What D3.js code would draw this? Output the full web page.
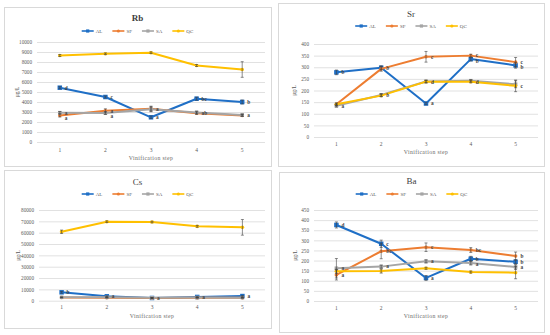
<!DOCTYPE html>
<html>
<head>
<meta charset="utf-8">
<script src="https://cdn.jsdelivr.net/npm/d3@7"></script>
<style>
  html, body { margin: 0; padding: 0; background: #ffffff; }
  svg { display: block; }
  text { font-family: "Liberation Serif", "Times New Roman", serif; }
</style>
</head>
<body>
<svg id="chart" width="550" height="335"></svg>
<script>
// ---------------- DATA ----------------
const steps = ["1", "2", "3", "4", "5"];
const seriesNames = ["AL", "SF", "SA", "QC"];
const xAxisTitle = "Vinification step";
const yAxisTitle = "μg/L";

// Rb
const rbTicks = [0, 1000, 2000, 3000, 4000, 5000, 6000, 7000, 8000, 9000, 10000];
const rbMeans = [
  [5430, 4500, 2470, 4330, 4000],
  [2650, 3120, 3330, 2880, 2650],
  [2930, 2900, 3280, 2960, 2700],
  [8650, 8820, 8930, 7650, 7250]
];
const rbErrors = [
  [100, 100, 120, 150, 200],
  [150, 200, 250, 120, 100],
  [120, 150, 250, 120, 100],
  [100, 80, 80, 100, 780]
];
const rbLetters = [
  ["d", "c", "a", "bc", "b"],
  ["a", "a", "", "ab", ""],
  ["a", "a", "a", "", "a"],
  ["", "", "", "", ""]
];

// Sr
const srTicks = [0, 50, 100, 150, 200, 250, 300, 350, 400];
const srMeans = [
  [278, 298, 144, 335, 308],
  [141, 293, 345, 350, 322],
  [134, 181, 239, 242, 227],
  [141, 178, 238, 238, 220]
];
const srErrors = [
  [10, 8, 5, 8, 12],
  [5, 10, 23, 6, 20],
  [5, 6, 6, 5, 15],
  [5, 5, 5, 5, 25]
];
const srLetters = [
  ["b", "b", "a", "b", "b"],
  ["", "", "c", "c", "c"],
  ["a", "b", "", "", ""],
  ["", "", "d", "d", "c"]
];

// Cs
const csTicks = [0, 10000, 20000, 30000, 40000, 50000, 60000, 70000, 80000];
const csMeans = [
  [7400, 3900, 2400, 3300, 4100],
  [2800, 2600, 2300, 2500, 2500],
  [3000, 3000, 2500, 2800, 2700],
  [60800, 69700, 69400, 65600, 64700]
];
const csErrors = [
  [800, 400, 300, 300, 500],
  [300, 300, 300, 300, 300],
  [300, 300, 300, 300, 300],
  [1500, 700, 700, 800, 6900]
];
const csLetters = [
  ["b", "a", "a", "a", "a"],
  ["", "", "", "", ""],
  ["", "", "", "", ""],
  ["", "", "", "", ""]
];

// Ba
const baTicks = [0, 50, 100, 150, 200, 250, 300, 350, 400, 450];
const baMeans = [
  [376, 283, 114, 209, 194],
  [129, 246, 266, 252, 222],
  [162, 170, 196, 188, 168],
  [147, 148, 162, 143, 140]
];
const baErrors = [
  [15, 18, 12, 12, 10],
  [25, 37, 21, 12, 20],
  [48, 8, 8, 10, 12],
  [10, 10, 5, 5, 30]
];
const baLetters = [
  ["d", "c", "a", "b", "b"],
  ["a", "bc", "c", "bc", "b"],
  ["a", "a", "a", "a", "a"],
  ["", "", "", "", ""]
];

// ---------------- LAYOUT / STYLE ----------------
const colors = ["#1f6fc6", "#ed7d31", "#a5a5a5", "#ffc000"];
const markerKind = ["square", "circle", "square", "circle"];

const panels = [
  { title: "Rb", bold: true, ticks: rbTicks, means: rbMeans, errors: rbErrors, letters: rbLetters,
    box: [4, 7, 267, 159], plot: [37, 42, 265, 142], titleY: 20.5, legendY: 31, catY: 151.5, xTitleY: 159.5, yTitleX: 17 },
  { title: "Sr", bold: false, ticks: srTicks, means: srMeans, errors: srErrors, letters: srLetters,
    box: [278, 3, 266, 163], plot: [314, 44, 538, 137], titleY: 16.5, legendY: 26, catY: 145.5, xTitleY: 154, yTitleX: 294 },
  { title: "Cs", bold: false, ticks: csTicks, means: csMeans, errors: csErrors, letters: csLetters,
    box: [4, 170, 267, 158], plot: [39, 210, 265, 300.7], titleY: 184.5, legendY: 194, catY: 309.5, xTitleY: 318, yTitleX: 18 },
  { title: "Ba", bold: false, ticks: baTicks, means: baMeans, errors: baErrors, letters: baLetters,
    box: [279, 172, 265, 160], plot: [314, 210, 538, 301], titleY: 183.5, legendY: 194, catY: 309.5, xTitleY: 317.5, yTitleX: 295 }
];

const svg = d3.select("#chart");

function drawMarker(g, kind, cx, cy, size, color) {
  if (kind === "square") {
    g.append("rect").attr("x", cx - size / 2).attr("y", cy - size / 2)
      .attr("width", size).attr("height", size).attr("fill", color);
  } else {
    g.append("circle").attr("cx", cx).attr("cy", cy).attr("r", size / 2).attr("fill", color);
  }
}

panels.forEach(p => {
  const g = svg.append("g");
  const [bx, by, bw, bh] = p.box;
  g.append("rect").attr("x", bx + 0.5).attr("y", by + 0.5).attr("width", bw).attr("height", bh)
    .attr("fill", "#ffffff").attr("stroke", "#d9d9d9").attr("stroke-width", 1);

  const [x0, yTop, x1, yBottom] = p.plot;
  const x = d3.scaleBand().domain(steps).range([x0, x1]).padding(0);
  const y = d3.scaleLinear().domain([p.ticks[0], p.ticks[p.ticks.length - 1]]).range([yBottom, yTop]);
  const cx = s => x(s) + x.bandwidth() / 2;

  // gridlines + y tick labels
  const yAxis = g.append("g").attr("transform", `translate(${x0},0)`)
    .call(d3.axisLeft(y).tickValues(p.ticks).tickSize(-(x1 - x0)).tickPadding(5).tickFormat(d3.format("d")));
  yAxis.select(".domain").remove();
  yAxis.selectAll(".tick line").attr("stroke", "#d9d9d9").attr("stroke-width", 0.8);
  yAxis.selectAll(".tick text").attr("fill", "#595959").attr("font-size", 5.2)
    .style("font-family", '"Liberation Serif", serif');

  // x tick labels
  const xAxis = g.append("g").attr("transform", `translate(0,${yBottom})`)
    .call(d3.axisBottom(x).tickSize(0).tickPadding(0));
  xAxis.select(".domain").remove();
  xAxis.selectAll(".tick text").attr("fill", "#595959").attr("font-size", 5.5)
    .attr("y", p.catY - yBottom).attr("dy", 0)
    .style("font-family", '"Liberation Serif", serif');

  // title
  g.append("text").attr("x", bx + bw / 2).attr("y", p.titleY).attr("text-anchor", "middle")
    .attr("font-size", 9).attr("font-weight", p.bold ? "bold" : "normal").attr("fill", "#404040")
    .text(p.title);

  // axis titles
  g.append("text").attr("x", (x0 + x1) / 2).attr("y", p.xTitleY).attr("text-anchor", "middle")
    .attr("font-size", 5.8).attr("letter-spacing", 0.35).attr("fill", "#6a6a6a").text(xAxisTitle);
  g.append("text").attr("transform", `translate(${p.yTitleX},${(yTop + yBottom) / 2}) rotate(-90)`)
    .attr("text-anchor", "middle").attr("dy", "0.35em").attr("font-size", 5.5).attr("fill", "#595959")
    .text(yAxisTitle);

  // legend
  const leg = g.append("g");
  let lx = 0;
  seriesNames.forEach((name, i) => {
    const it = leg.append("g").attr("transform", `translate(${lx},0)`);
    it.append("line").attr("x1", 0).attr("x2", 12).attr("y1", 0).attr("y2", 0)
      .attr("stroke", colors[i]).attr("stroke-width", 1.6);
    drawMarker(it, markerKind[i], 6, 0, 3.2, colors[i]);
    const t = it.append("text").attr("x", 14).attr("y", 0).attr("dy", "0.35em")
      .attr("font-size", 5).attr("fill", "#595959").text(name);
    lx += 14 + t.node().getComputedTextLength() + 10;
  });
  lx -= 10;
  leg.attr("transform", `translate(${bx + bw / 2 - lx / 2},${p.legendY})`);

  // series
  const line = d3.line().x((d, j) => cx(steps[j])).y(d => y(d));
  p.means.forEach((vals, i) => {
    const sg = g.append("g");
    sg.append("path").datum(vals).attr("d", line).attr("fill", "none")
      .attr("stroke", colors[i]).attr("stroke-width", 2).attr("stroke-linejoin", "round");
    vals.forEach((v, j) => {
      drawMarker(sg, markerKind[i], cx(steps[j]), y(v), i === 0 ? 4.5 : 3.6, colors[i]);
    });
  });

  // error bars
  p.means.forEach((vals, i) => {
    vals.forEach((v, j) => {
      const e = p.errors[i][j];
      const xc = cx(steps[j]);
      const eg = g.append("g").attr("stroke", "#404040").attr("stroke-width", 0.6);
      eg.append("line").attr("x1", xc).attr("x2", xc).attr("y1", y(v - e)).attr("y2", y(v + e));
      eg.append("line").attr("x1", xc - 1.5).attr("x2", xc + 1.5).attr("y1", y(v - e)).attr("y2", y(v - e));
      eg.append("line").attr("x1", xc - 1.5).attr("x2", xc + 1.5).attr("y1", y(v + e)).attr("y2", y(v + e));
    });
  });

  // significance letters (stacked so they do not collide)
  steps.forEach((s, j) => {
    const items = [];
    p.means.forEach((vals, i) => {
      const L = p.letters[i][j];
      if (L) items.push({ L, yy: y(vals[j]) });
    });
    items.sort((a, b) => a.yy - b.yy);
    for (let k = 1; k < items.length; k++) {
      if (items[k].yy - items[k - 1].yy < 5.2) items[k].yy = items[k - 1].yy + 5.2;
    }
    items.forEach(it => {
      g.append("text").attr("x", cx(s) + 5).attr("y", it.yy).attr("dy", "0.35em")
        .attr("font-size", 5.3).attr("font-weight", "bold").attr("fill", "#404040").text(it.L);
    });
  });
});
</script>
</body>
</html>
